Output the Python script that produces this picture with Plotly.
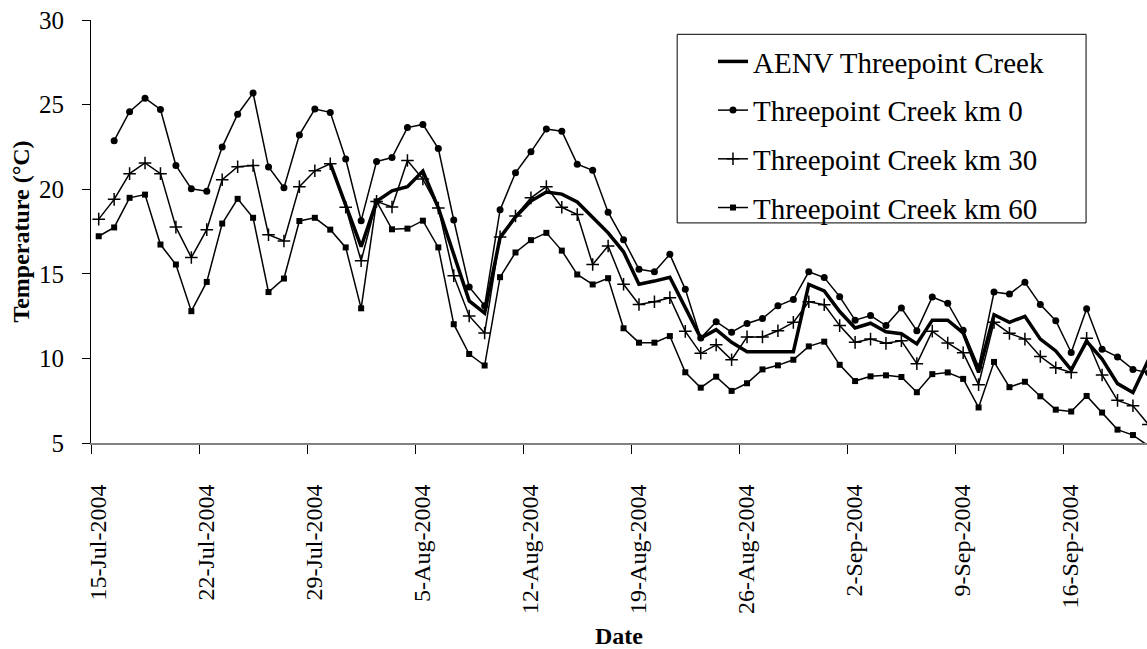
import pandas as pd
import plotly.graph_objects as go

# Daily readings, 15-Jul-2004 onward (one value per day, plotted at midday)
start_day = "2004-07-15"
n_days = 69
dates = pd.date_range(start_day + " 12:00", periods=n_days, freq="D")

aenv = [None] * 15 + [
    21.52, 19.10, 16.60, 19.28, 19.90, 20.15, 21.07, 18.90, 16.15, 13.40,
    12.67, 17.14, 18.36, 19.30, 19.83, 19.71, 19.25, 18.36, 17.42, 16.30,
    14.38, 14.57, 14.80, 13.00, 11.20, 11.70, 10.95, 10.39, 10.39, 10.39,
    10.39, 14.37, 13.99, 12.77, 11.80, 12.08, 11.57, 11.46, 10.86, 12.26,
    12.26, 11.51, 9.17, 12.58, 12.13, 12.49, 11.14, 10.44, 9.32, 11.01,
    9.96, 8.51, 7.98, 9.90,
]

km0 = [None,
    22.87, 24.58, 25.38, 24.71, 21.40, 20.02, 19.88, 22.49, 24.43, 25.68,
    21.31, 20.09, 23.21, 24.74, 24.54, 21.78, 18.14, 21.63, 21.87, 23.64,
    23.83, 22.40, 18.18, 14.22, 13.11, 18.78, 20.97, 22.21, 23.56, 23.43,
    21.48, 21.12, 18.64, 17.01, 15.27, 15.12, 16.15, 14.08, 11.20, 12.17,
    11.55, 12.06, 12.36, 13.11, 13.48, 15.12, 14.78, 13.65, 12.26, 12.53,
    11.94, 12.98, 11.64, 13.63, 13.26, 11.66, 9.50, 13.92, 13.80, 14.50,
    13.18, 12.23, 10.35, 12.94, 10.54, 10.09, 9.35, 9.15,
]

km30 = [
    18.23, 19.40, 20.92, 21.55, 20.92, 17.76, 15.96, 17.61, 20.56, 21.33,
    21.40, 17.31, 16.94, 20.15, 21.09, 21.50, 18.93, 15.77, 19.28, 18.95,
    21.70, 20.60, 18.89, 14.89, 12.51, 11.50, 17.18, 18.42, 19.49, 20.15,
    18.93, 18.50, 15.55, 16.64, 14.38, 13.19, 13.35, 13.59, 11.60, 10.30,
    10.80, 9.92, 11.27, 11.27, 11.63, 12.13, 13.35, 13.17, 11.94, 10.95,
    11.14, 10.89, 11.04, 9.69, 11.61, 10.91, 10.33, 8.45, 12.13, 11.48,
    11.14, 10.11, 9.45, 9.17, 11.19, 9.02, 7.52, 7.20, 6.10,
]

km60 = [
    17.22, 17.74, 19.49, 19.68, 16.73, 15.55, 12.79, 14.52, 17.97, 19.43,
    18.31, 13.92, 14.72, 18.12, 18.31, 17.61, 16.56, 12.96, 19.28, 17.63,
    17.67, 18.14, 16.56, 12.02, 10.26, 9.58, 14.80, 16.26, 16.99, 17.42,
    16.37, 14.96, 14.37, 14.74, 11.78, 10.93, 10.93, 11.32, 9.18, 8.27,
    8.92, 8.08, 8.53, 9.35, 9.59, 9.92, 10.71, 10.99, 9.62, 8.66,
    8.94, 9.00, 8.90, 8.00, 9.07, 9.17, 8.79, 7.10, 9.79, 8.30,
    8.62, 7.76, 6.97, 6.86, 7.78, 6.80, 5.79, 5.47, 4.83,
]

series_names = [
    "AENV Threepoint Creek",
    "Threepoint Creek km 0",
    "Threepoint Creek km 30",
    "Threepoint Creek km 60",
]

FONT = "Liberation Serif"
INK = "black"

fig = go.Figure()

fig.add_trace(go.Scatter(
    x=dates, y=aenv, name=series_names[0], mode="lines",
    line=dict(color=INK, width=3.5), legendgroup="a",
))
fig.add_trace(go.Scatter(
    x=dates, y=km0, name=series_names[1], mode="lines+markers",
    line=dict(color=INK, width=1.5),
    marker=dict(symbol="circle", size=7, color=INK),
    legendgroup="b",
))
fig.add_trace(go.Scatter(
    x=dates, y=km30, name=series_names[2], mode="lines+markers",
    line=dict(color=INK, width=1.5),
    marker=dict(symbol="cross-thin", size=9, color=INK,
                line=dict(color=INK, width=1.5)),
    legendgroup="c",
))
fig.add_trace(go.Scatter(
    x=dates, y=km60, name=series_names[3], mode="lines+markers",
    line=dict(color=INK, width=1.5),
    marker=dict(symbol="square", size=6, color=INK),
    legendgroup="d",
))

# x range: from the start of 15-Jul through part of 21-Sep
x_start = pd.Timestamp(start_day)
x_end = x_start + pd.Timedelta(days=68.41)

fig.update_layout(
    width=1147, height=649,
    margin=dict(l=91, r=0, t=20, b=185),
    paper_bgcolor="white", plot_bgcolor="white",
    font=dict(family=FONT, size=24, color=INK),
    showlegend=True,
    legend=dict(
        x=0.589, y=0.962, xanchor="left", yanchor="top",
        font=dict(family=FONT, size=29, color=INK),
        bgcolor="rgba(255,255,255,0)", borderwidth=0,
        traceorder="grouped", tracegroupgap=8,
    ),
    shapes=[dict(
        type="rect", xref="paper", yref="paper",
        x0=0.5551, x1=0.9423, y0=0.5203, y1=0.9662,
        line=dict(color=INK, width=1), fillcolor="rgba(0,0,0,0)",
        layer="above",
    )],
)

fig.update_xaxes(
    range=[x_start, x_end],
    tickmode="linear", tick0=start_day, dtick=7 * 86400000,
    tickformat="%-d-%b-%Y", tickangle=-90,
    ticks="outside", ticklen=9, tickcolor=INK, tickwidth=1,
    showline=True, linecolor="#808080", linewidth=2,
    showgrid=False, zeroline=False,
    tickfont=dict(family=FONT, size=24, color=INK),
    ticklabelshift=7, ticklabelstandoff=21,
    title=dict(text="<b>Date</b>", font=dict(family=FONT, size=24, color=INK),
               standoff=18),
)

fig.update_yaxes(
    range=[5, 30], tickmode="linear", tick0=5, dtick=5,
    ticks="outside", ticklen=8, tickcolor=INK, tickwidth=1,
    showline=True, linecolor=INK, linewidth=1,
    showgrid=False, zeroline=False,
    tickfont=dict(family=FONT, size=25, color=INK),
    ticklabelstandoff=13,
    title=dict(text="<b>Temperature (°C)</b>",
               font=dict(family=FONT, size=24, color=INK), standoff=2),
)

fig.write_html("out.html")
